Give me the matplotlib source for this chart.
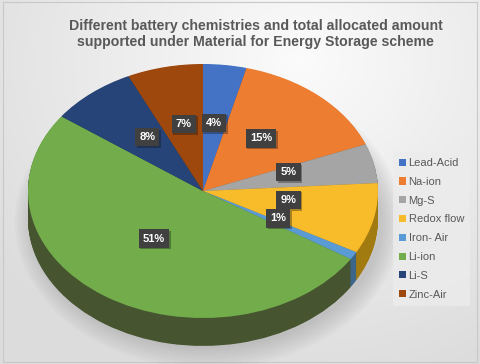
import numpy as np
import matplotlib.pyplot as plt
import matplotlib.patheffects as pe
import matplotlib.transforms as mtransforms
from matplotlib.patches import Ellipse

plt.rcParams['font.family'] = ['Liberation Sans', 'DejaVu Sans']

# chart data
chemistries = ['Lead-Acid', 'Na-ion', 'Mg-S', 'Redox flow', 'Iron- Air', 'Li-ion', 'Li-S', 'Zinc-Air']
shares = [4, 15, 5, 9, 1, 51, 8, 7]
colors = ['#4472C4', '#ED7D31', '#A5A5A5', '#F8BC2A', '#5B9BD5', '#72AC4B', '#264478', '#9E480E']
side_colors = ['#2c4a80', '#9a5120', '#6b6b6b', '#a17a10', '#3b6589', '#465530', '#182c4e', '#662f09']

W, H = 480, 364
cx, cy = 203, 191      # pie centre in pixels
rx, ry = 175, 127      # ellipse radii in pixels
depth = 0.22           # thickness in data units

fig = plt.figure(figsize=(W / 100, H / 100), dpi=100)

# background gradient
bg = fig.add_axes([0, 0, 1, 1])
yy, xx = np.mgrid[0:H, 0:W]
d = np.sqrt(((xx - 300) / 380.0) ** 2 + ((yy - 60) / 330.0) ** 2)
shade = 0.985 - 0.12 * np.clip(d, 0, 1)
bg.imshow(np.dstack([shade, shade, shade]), extent=[0, W, H, 0], aspect='auto')
bg.plot([3, 477, 477, 3, 3], [2, 2, 362, 362, 2], color='#c8c8c8', lw=0.8)
bg.set_xlim(0, W)
bg.set_ylim(H, 0)
bg.axis('off')

ax = fig.add_axes([0, 0, 1, 1])
ax.patch.set_alpha(0)

# soft shadow
for k in range(8):
    ax.add_patch(Ellipse((0.03, -depth - 0.02), 2.0 + 0.03 * k, 2.0 + 0.045 * k,
                         color='#707070', alpha=0.04, lw=0, zorder=0))

# side wall: stacked darker pies
for off in np.linspace(depth, 0.005, 34):
    ax.pie(shares, colors=side_colors, startangle=90, counterclock=False,
           center=(0, -off), wedgeprops=dict(linewidth=0))

wedges, _, autotexts = ax.pie(
    shares, colors=colors, startangle=90, counterclock=False,
    autopct='%1.0f%%', pctdistance=0.5,
    wedgeprops=dict(linewidth=0.3, edgecolor='none'),
    textprops=dict(color='white', fontsize=8, fontweight='bold'))
lift = mtransforms.ScaledTranslation(0, 5 / 100, fig.dpi_scale_trans)
for t in autotexts:
    t.set_transform(t.get_transform() + lift)
    t.set_bbox(dict(boxstyle='square,pad=0.38', facecolor='#404040', edgecolor='none'))
    t.get_bbox_patch().set_path_effects([pe.SimplePatchShadow(offset=(1.2, -1.2), alpha=0.35),
                                         pe.Normal()])

ax.set_aspect('auto')
ax.set_xlim(-cx / rx, (W - cx) / rx)
ax.set_ylim(-(H - cy) / ry, cy / ry)
ax.axis('off')

fig.text(0.533, 0.948, 'Different battery chemistries and total allocated amount\n'
         'supported under Material for Energy Storage scheme',
         ha='center', va='top', fontsize=10.2, fontweight='bold', color='#595959',
         linespacing=1.2)

leg = ax.legend(wedges, chemistries, loc='upper left', bbox_to_anchor=(393 / W, 1 - 152 / H),
                bbox_transform=fig.transFigure, frameon=True, fontsize=8,
                handlelength=0.6, handleheight=0.6, handletextpad=0.25,
                labelspacing=0.79, borderpad=0.55, borderaxespad=0, labelcolor='#595959')
leg.get_frame().set_facecolor('#ececec')
leg.get_frame().set_edgecolor('none')
leg.get_frame().set_boxstyle('square,pad=0')

fig.savefig('out.png', dpi=100)
